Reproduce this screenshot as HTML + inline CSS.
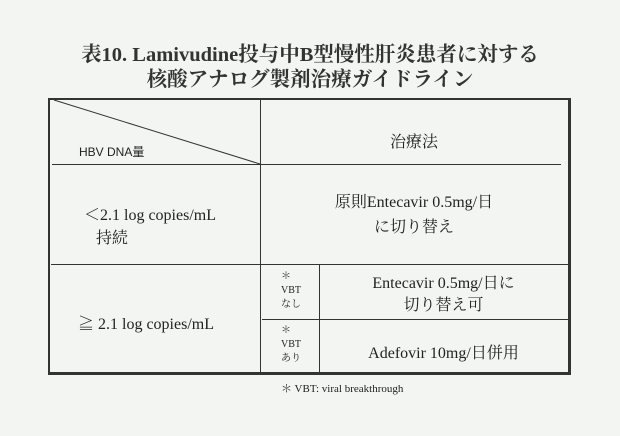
<!DOCTYPE html>
<html><head><meta charset="utf-8"><style>
body{margin:0;width:620px;height:436px;background:#f3f5f2;position:relative;overflow:hidden;font-family:"Liberation Serif","Noto Serif CJK SC",serif;color:#222}
.t{position:absolute;white-space:nowrap}
.c{text-align:center}
.l{position:absolute;background:#333}
</style></head><body>
<div class="t c" style="left:0;width:620px;top:43px;font-size:20.5px;line-height:25px;font-weight:bold;color:#333">表10. Lamivudine投与中B型慢性肝炎患者に対する<br>核酸アナログ製剤治療ガイドライン</div>
<div style="position:absolute;left:48px;top:98px;width:518px;height:272px;border:2px solid #333;border-right-width:3px;border-bottom-width:3px"></div>
<div class="l" style="left:52px;top:164px;width:509px;height:1px"></div>
<div class="l" style="left:260px;top:99px;width:1px;height:273px"></div>
<div class="l" style="left:51px;top:264px;width:518px;height:1px"></div>
<div class="l" style="left:319px;top:265px;width:1px;height:107px"></div>
<div class="l" style="left:262px;top:319px;width:306px;height:1px"></div>
<svg style="position:absolute;left:0;top:0" width="620" height="436"><line x1="54" y1="100" x2="260" y2="164" stroke="#333" stroke-width="1"/></svg>
<div class="t" style="left:79px;top:143px;font-size:12px;font-family:'Liberation Sans','Noto Sans CJK JP',sans-serif">HBV DNA量</div>
<div class="t c" style="left:261px;width:306px;top:129px;font-size:16px">治療法</div>
<div class="t" style="left:84px;top:204px;font-size:16px;line-height:23px">＜2.1 log copies/mL<br>&nbsp;&nbsp;&nbsp;持続</div>
<div class="t c" style="left:261px;width:306px;top:190px;font-size:16px;line-height:25px">原則Entecavir 0.5mg/日<br>に切り替え</div>
<div class="t" style="left:78px;top:311px;font-size:16px">≧ 2.1 log copies/mL</div>
<div class="t" style="left:281px;top:270px;font-size:10px;line-height:14px">＊<br>VBT<br>なし</div>
<div class="t" style="left:281px;top:324px;font-size:10px;line-height:14px">＊<br>VBT<br>あり</div>
<div class="t c" style="left:320px;width:247px;top:273px;font-size:16px;line-height:22px">Entecavir 0.5mg/日に<br>切り替え可</div>
<div class="t c" style="left:320px;width:247px;top:340px;font-size:16px">Adefovir 10mg/日併用</div>
<div class="t" style="left:281px;top:380px;font-size:11px">＊ VBT: viral breakthrough</div>
</body></html>
